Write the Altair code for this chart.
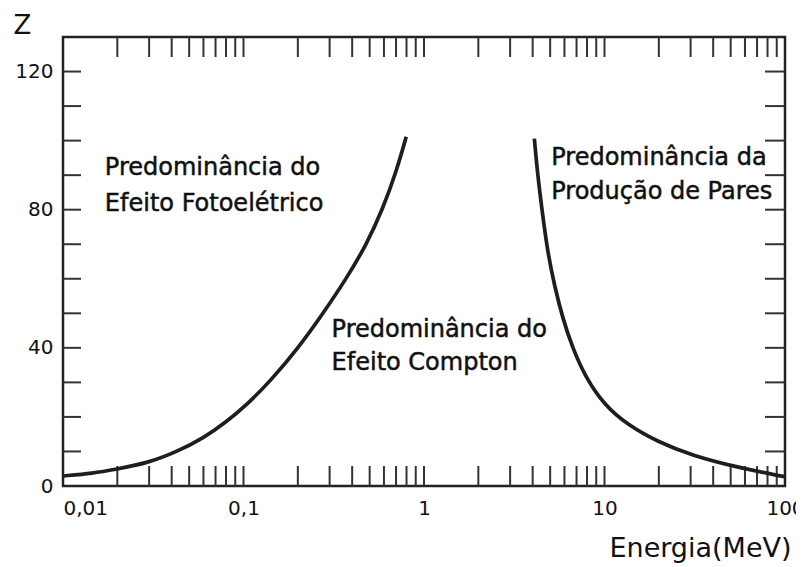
import altair as alt
import pandas as pd

# Boundary curve: photoelectric / Compton
pe_energy = [0.01, 0.0147, 0.0194, 0.0297, 0.0426, 0.0597, 0.0805, 0.104, 0.140,
             0.205, 0.276, 0.371, 0.479, 0.592, 0.702, 0.797]
pe_z = [2.9, 3.7, 4.8, 6.7, 9.9, 13.8, 18.6, 23.5, 30.2,
        40.5, 50.0, 60.0, 69.8, 80.3, 91.0, 101.1]

# Boundary curve: Compton / pair production
pp_energy = [4.087, 4.263, 4.543, 4.842, 5.272, 5.862, 6.656, 7.898, 9.968,
             13.41, 19.66, 30.7, 53.4, 96.6, 100]
pp_z = [100.6, 90.0, 78.5, 67.8, 58.2, 48.6, 39.9, 31.2, 23.5,
        17.7, 12.8, 8.8, 5.5, 2.8, 2.7]

# Axis labels / ticks
x_label_values = [0.01, 0.1, 1, 10, 100]
y_label_values = [0, 40, 80, 120]
x_minor_ticks = [0.02, 0.03, 0.04, 0.05, 0.06, 0.07, 0.08, 0.09, 0.1,
                 0.2, 0.3, 0.4, 0.5, 0.6, 0.7, 0.8, 0.9, 1,
                 2, 3, 4, 5, 6, 7, 8, 9, 10,
                 20, 30, 40, 50, 60, 70, 80, 90]
y_minor_ticks = [10, 20, 30, 40, 50, 60, 70, 80, 90, 100, 110, 120]

# Region annotations (anchor energy, Z of baseline, text)
ann_energy = [0.01706, 0.01706, 0.3076, 0.3076, 5.07, 5.07]
ann_z = [90.0, 79.6, 43.1, 33.6, 92.9, 83.1]
ann_text = ["Predominância do", "Efeito Fotoelétrico",
            "Predominância do", "Efeito Compton",
            "Predominância da", "Produção de Pares"]

W, H = 722, 449
FONT = "DejaVu Sans"
INK = "#1e1e1e"

curves = pd.concat([
    pd.DataFrame({"e": pe_energy, "z": pe_z, "curve": "pe"}),
    pd.DataFrame({"e": pp_energy, "z": pp_z, "curve": "pp"}),
])
xt = pd.DataFrame({"e": x_minor_ticks})
yt = pd.DataFrame({"z": y_minor_ticks})
ann = pd.DataFrame({"e": ann_energy, "z": ann_z, "t": ann_text})

xscale = alt.Scale(type="log", domain=[0.01, 100], nice=False)
yscale = alt.Scale(domain=[0, 130], nice=False, zero=False)

lines = alt.Chart(curves).mark_line(
    interpolate="basis", strokeWidth=3.7, color=INK, clip=True
).encode(
    x=alt.X("e:Q", scale=xscale, axis=alt.Axis(
        values=x_label_values, ticks=False, domain=False, grid=False,
        labelExpr="replace(toString(datum.value), '.', ',')",
        labelFont=FONT, labelFontSize=20, labelColor="#111",
        labelPadding=12,
        labelAlign=alt.condition("datum.value < 0.02", alt.value("left"), alt.value("center")),
        title="Energia(MeV)", titleFont=FONT, titleFontSize=27,
        titleFontWeight="normal", titleColor="#111",
        titleAnchor="end", titleAlign="right", titleX=728, titleY=70,
        titleBaseline="alphabetic")),
    y=alt.Y("z:Q", scale=yscale, axis=alt.Axis(
        values=y_label_values, ticks=False, domain=False, grid=False,
        labelFont=FONT, labelFontSize=20, labelColor="#111", labelPadding=10,
        title="Z", titleFont=FONT, titleFontSize=26, titleFontWeight="normal",
        titleColor="#111", titleAngle=0, titleAlign="left",
        titleX=-50, titleY=-4, titleBaseline="alphabetic")),
    detail="curve:N",
)

top_ticks = alt.Chart(xt).mark_rule(color="#333", strokeWidth=2).encode(
    x=alt.X("e:Q", scale=xscale), y=alt.value(0), y2=alt.value(20))
bot_ticks = alt.Chart(xt).mark_rule(color="#333", strokeWidth=2).encode(
    x=alt.X("e:Q", scale=xscale), y=alt.value(H - 20), y2=alt.value(H))
left_ticks = alt.Chart(yt).mark_rule(color="#333", strokeWidth=2).encode(
    y=alt.Y("z:Q", scale=yscale), x=alt.value(0), x2=alt.value(18))
right_ticks = alt.Chart(yt).mark_rule(color="#333", strokeWidth=2).encode(
    y=alt.Y("z:Q", scale=yscale), x=alt.value(W - 20), x2=alt.value(W))

labels = alt.Chart(ann).mark_text(
    align="left", baseline="alphabetic", font=FONT, fontSize=24, color="#111",
    stroke="#111", strokeWidth=0.5
).encode(
    x=alt.X("e:Q", scale=xscale), y=alt.Y("z:Q", scale=yscale), text="t:N")

chart = alt.layer(top_ticks, bot_ticks, left_ticks, right_ticks, lines, labels).properties(
    width=W, height=H,
    autosize=alt.AutoSizeParams(type="none"),
    padding={"left": 55, "top": 29, "right": 11, "bottom": 79},
    background="white",
).configure_view(stroke="#222", strokeWidth=2.5)

chart.save("out.html", embed_options={"renderer": "svg", "actions": False})
